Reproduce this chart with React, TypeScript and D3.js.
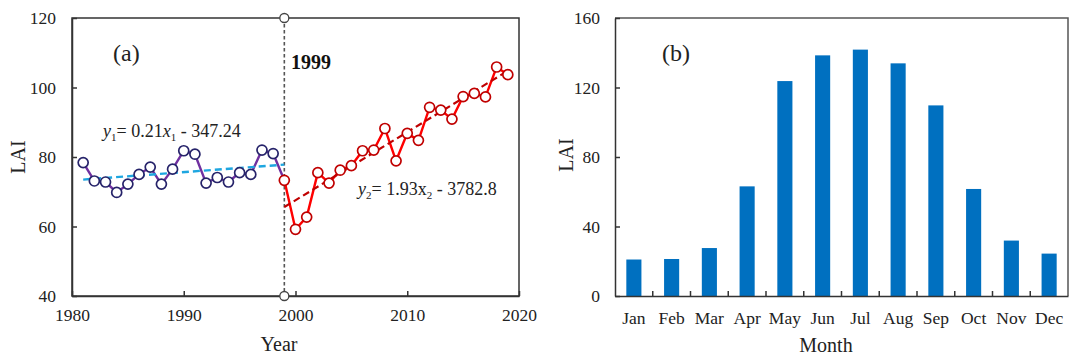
import { useEffect, useRef } from 'react';
import * as d3 from 'd3';

// panel (a): annual LAI, split at the 1999 change point
const earlyYears = [1981, 1982, 1983, 1984, 1985, 1986, 1987, 1988, 1989, 1990, 1991, 1992, 1993, 1994, 1995, 1996, 1997, 1998, 1999];
const earlyLai = [78.4, 73.1, 72.8, 69.8, 72.2, 75.0, 77.1, 72.2, 76.5, 81.8, 80.8, 72.5, 74.1, 72.8, 75.5, 75.0, 82.0, 81.0, 73.3];
const lateYears = [1999, 2000, 2001, 2002, 2003, 2004, 2005, 2006, 2007, 2008, 2009, 2010, 2011, 2012, 2013, 2014, 2015, 2016, 2017, 2018, 2019];
const lateLai = [73.3, 59.2, 62.7, 75.5, 72.5, 76.2, 77.5, 81.8, 82.0, 88.2, 78.9, 86.8, 84.8, 94.3, 93.5, 90.9, 97.4, 98.3, 97.3, 105.9, 103.7];
const trendEarly = [[1981, 73.5], [1999, 77.8]];
const trendLate = [[1999, 65.6], [2019, 104.8]];
const breakYear = 1999;
const yearTicks = [1980, 1990, 2000, 2010, 2020];
const laiTicksA = [40, 60, 80, 100, 120];

// panel (b): monthly LAI
const months = ['Jan', 'Feb', 'Mar', 'Apr', 'May', 'Jun', 'Jul', 'Aug', 'Sep', 'Oct', 'Nov', 'Dec'];
const monthLai = [21.0, 21.3, 27.6, 63.1, 123.7, 138.5, 141.8, 133.9, 109.7, 61.6, 31.9, 24.4];
const laiTicksB = [0, 40, 80, 120, 160];

const FONT = '"Liberation Serif", "Times New Roman", serif';

const App = () => {
  const svgRef = useRef<SVGSVGElement>(null);

  useEffect(() => {
    const width = 1069;
    const height = 359;
    document.body.style.margin = '0';

    const svg = d3.select(svgRef.current);
    svg.selectAll('*').remove();
    svg.attr('width', width).attr('height', height)
      .style('font-family', FONT);

    const axisColor = '#333';

    // ---------- panel (a) ----------
    const xA = d3.scaleLinear().domain([1980, 2020]).range([72, 519]);
    const yA = d3.scaleLinear().domain([40, 120]).range([296, 18]);
    const a = svg.append('g');

    a.append('rect')
      .attr('x', xA(1980)).attr('y', yA(120))
      .attr('width', xA(2020) - xA(1980)).attr('height', yA(40) - yA(120))
      .attr('fill', 'none').attr('stroke', axisColor).attr('stroke-width', 1.5);

    const axA = a.append('g')
      .attr('transform', `translate(0,${yA(40)})`)
      .call(d3.axisBottom(xA).tickValues(yearTicks).tickFormat(d3.format('d'))
        .tickSizeInner(-5).tickSizeOuter(0).tickPadding(13));
    const ayA = a.append('g')
      .attr('transform', `translate(${xA(1980)},0)`)
      .call(d3.axisLeft(yA).tickValues(laiTicksA)
        .tickSizeInner(-5).tickSizeOuter(0).tickPadding(16));
    [axA, ayA].forEach(g => {
      g.select('.domain').attr('stroke', axisColor).attr('stroke-width', 1.5);
      g.selectAll('line').attr('stroke', axisColor).attr('stroke-width', 1.5);
      g.selectAll('text').attr('font-size', '17.5px').attr('fill', '#222').attr('font-family', FONT);
    });

    // break line at 1999
    a.append('line')
      .attr('x1', xA(breakYear)).attr('x2', xA(breakYear))
      .attr('y1', yA(120)).attr('y2', yA(40))
      .attr('stroke', '#555').attr('stroke-width', 1.6).attr('stroke-dasharray', '3.5,2.5');
    a.selectAll('circle.brk')
      .data([120, 40])
      .enter()
      .append('circle')
      .attr('class', 'brk')
      .attr('cx', xA(breakYear)).attr('cy', d => yA(d)).attr('r', 4.5)
      .attr('fill', '#fff').attr('stroke', '#444').attr('stroke-width', 1.3);

    const early = earlyYears.map((yr, i) => [yr, earlyLai[i]]);
    const late = lateYears.map((yr, i) => [yr, lateLai[i]]);
    const line = d3.line().x(d => xA(d[0])).y(d => yA(d[1]));

    a.append('path').attr('d', line(early))
      .attr('fill', 'none').attr('stroke', '#7030A0').attr('stroke-width', 2.4);
    a.append('path').attr('d', line(late))
      .attr('fill', 'none').attr('stroke', '#FF0000').attr('stroke-width', 2.4);

    // trend lines
    a.append('path').attr('d', line(trendEarly))
      .attr('fill', 'none').attr('stroke', '#1EA6E0').attr('stroke-width', 2.4)
      .attr('stroke-dasharray', '7,4');
    a.append('path').attr('d', line(trendLate))
      .attr('fill', 'none').attr('stroke', '#C00000').attr('stroke-width', 2.2)
      .attr('stroke-dasharray', '7,4');

    a.selectAll('circle.early')
      .data(early.slice(0, -1))
      .enter()
      .append('circle')
      .attr('class', 'early')
      .attr('cx', d => xA(d[0])).attr('cy', d => yA(d[1])).attr('r', 5)
      .attr('fill', '#fff').attr('stroke', '#26236A').attr('stroke-width', 1.7);
    a.selectAll('circle.late')
      .data(late)
      .enter()
      .append('circle')
      .attr('class', 'late')
      .attr('cx', d => xA(d[0])).attr('cy', d => yA(d[1])).attr('r', 5)
      .attr('fill', '#fff').attr('stroke', '#C00000').attr('stroke-width', 1.7);

    // labels
    a.append('text').text('(a)')
      .attr('x', 113).attr('y', 61).attr('font-size', '24px').attr('fill', '#222');
    a.append('text').text('1999')
      .attr('x', 291).attr('y', 69).attr('font-size', '20px')
      .attr('font-weight', 'bold').attr('fill', '#111');

    const eq1 = a.append('text').attr('x', 103).attr('y', 137)
      .attr('font-size', '18px').attr('fill', '#222');
    eq1.append('tspan').text('y').attr('font-style', 'italic');
    eq1.append('tspan').text('1').attr('font-size', '11px').attr('dy', 4);
    eq1.append('tspan').text('= 0.21').attr('dy', -4);
    eq1.append('tspan').text('x').attr('font-style', 'italic');
    eq1.append('tspan').text('1').attr('font-size', '11px').attr('dy', 4);
    eq1.append('tspan').text(' - 347.24').attr('dy', -4);

    const eq2 = a.append('text').attr('x', 358).attr('y', 195)
      .attr('font-size', '18px').attr('fill', '#222');
    eq2.append('tspan').text('y').attr('font-style', 'italic');
    eq2.append('tspan').text('2').attr('font-size', '11px').attr('dy', 4);
    eq2.append('tspan').text('= 1.93x').attr('dy', -4);
    eq2.append('tspan').text('2').attr('font-size', '11px').attr('dy', 4);
    eq2.append('tspan').text(' - 3782.8').attr('dy', -4);

    a.append('text').text('Year')
      .attr('x', 279).attr('y', 351).attr('text-anchor', 'middle')
      .attr('font-size', '20px').attr('fill', '#222');
    a.append('text').text('LAI')
      .attr('transform', 'translate(25,157) rotate(-90)').attr('text-anchor', 'middle')
      .attr('font-size', '20px').attr('fill', '#222');

    // ---------- panel (b) ----------
    const xB = d3.scaleBand().domain(months).range([615, 1068])
      .paddingInner(0.6).paddingOuter(0.3);
    const yB = d3.scaleLinear().domain([0, 160]).range([296, 18]);
    const b = svg.append('g');

    b.append('path')
      .attr('d', `M${xB.range()[0]},${yB(160)}H${xB.range()[1]}V${yB(0)}`)
      .attr('fill', 'none').attr('stroke', '#555').attr('stroke-width', 1.5);

    b.selectAll('rect.bar')
      .data(monthLai)
      .enter()
      .append('rect')
      .attr('class', 'bar')
      .attr('x', (d, i) => xB(months[i]))
      .attr('y', d => yB(d))
      .attr('width', xB.bandwidth())
      .attr('height', d => yB(0) - yB(d))
      .attr('fill', '#0070C0');

    const axB = b.append('g')
      .attr('transform', `translate(0,${yB(0)})`)
      .call(d3.axisBottom(xB).tickSize(0).tickPadding(16));
    const ayB = b.append('g')
      .attr('transform', `translate(${xB.range()[0]},0)`)
      .call(d3.axisLeft(yB).tickValues(laiTicksB)
        .tickSizeInner(-5).tickSizeOuter(0).tickPadding(15));
    [axB, ayB].forEach(g => {
      g.select('.domain').attr('stroke', axisColor).attr('stroke-width', 1.5);
      g.selectAll('line').attr('stroke', axisColor).attr('stroke-width', 1.5);
      g.selectAll('text').attr('font-size', '17.5px').attr('fill', '#222').attr('font-family', FONT);
    });

    // ticks between months
    b.selectAll('line.sep')
      .data(months.slice(1))
      .enter()
      .append('line')
      .attr('class', 'sep')
      .attr('x1', d => xB(d) - xB.step() * 0.3)
      .attr('x2', d => xB(d) - xB.step() * 0.3)
      .attr('y1', yB(0)).attr('y2', yB(0) - 5)
      .attr('stroke', axisColor).attr('stroke-width', 1.5);

    b.append('text').text('(b)')
      .attr('x', 662).attr('y', 61).attr('font-size', '24px').attr('fill', '#222');
    b.append('text').text('Month')
      .attr('x', 826).attr('y', 352).attr('text-anchor', 'middle')
      .attr('font-size', '20px').attr('fill', '#222');
    b.append('text').text('LAI')
      .attr('transform', 'translate(573,155) rotate(-90)').attr('text-anchor', 'middle')
      .attr('font-size', '20px').attr('fill', '#222');
  }, []);

  return <svg ref={svgRef} style={{ display: 'block' }} />;
};

export default App;
